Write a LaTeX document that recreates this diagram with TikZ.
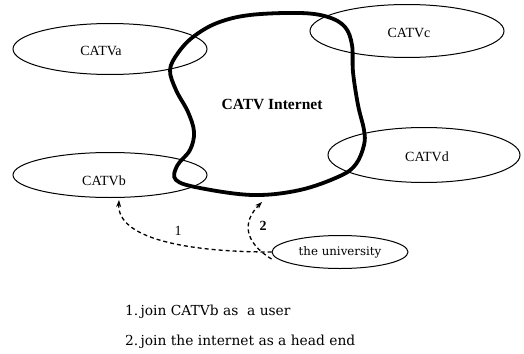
\documentclass[tikz,border=0pt]{standalone}
\usepackage{fontspec}
\setmainfont{Liberation Serif}
\newfontfamily\bodyserif{DejaVu Serif}
\usetikzlibrary{shapes.geometric,arrows.meta}
\begin{document}
\begin{tikzpicture}[x=1pt,y=-1pt,
  catv/.style={ellipse,draw,line width=1pt,inner sep=0pt},
  catvlabel/.style={inner sep=0pt,font=\fontsize{14}{16}\selectfont},
  link/.style={dashed,dash pattern=on 4pt off 3pt,line width=1.3pt,
    -{Stealth[length=7pt,width=5pt]}},
  numlabel/.style={inner sep=0pt,font=\fontsize{14}{16}\selectfont},
  note/.style={anchor=west,inner sep=0pt,font=\bodyserif\fontsize{13.8}{16}\selectfont}]
\useasboundingbox (0,0) rectangle (524,353);

% the four CATV networks
\node[catv,minimum width=194pt,minimum height=51pt] (a) at (110,49) {};
\node[catv,minimum width=194pt,minimum height=53pt] (c) at (407,31) {};
\node[catv,minimum width=194pt,minimum height=45pt] (b) at (110,175) {};
\node[catv,minimum width=192pt,minimum height=55pt] (d) at (424,155) {};
\node[catvlabel] (la) at (101,51) {CATVa};
\node[catvlabel] (lc) at (409,33) {CATVc};
\node[catvlabel] (lb) at (104,181) {CATVb};
\node[catvlabel] (ld) at (427,157) {CATVd};

% the CATV Internet backbone
\draw[line width=3.8pt] plot[smooth cycle,tension=0.6] coordinates {
  (170,70) (176,90) (188,112) (194,132) (190,150) (177,166) (176,180)
  (200,188) (253,195) (300,190) (340,176) (356,164) (364,145) (364,130)
  (358,105) (353,72) (352,45) (345,27) (328,17) (300,13) (250,15)
  (217,23) (193,37) (178,53)};
\node[inner sep=0pt,font=\bfseries\fontsize{15.5}{18}\selectfont] (net) at (272,104) {CATV Internet};
\coordinate (netin) at (262,202);

% the university and its two ways of joining
\node[catv,minimum width=136pt,minimum height=33pt,
  font=\bodyserif\fontsize{11.8}{14}\selectfont] (uni) at (340,252) {the university};
\coordinate (bin) at (119,200);

\draw[link] (uni.west) .. controls (185,252) and (117,238) .. (bin);
\draw[link] ([yshift=-7pt]uni.west) .. controls (244,242) and (242,222) .. (netin);
\node[numlabel] (n1) at (178,231) {1};
\node[numlabel,font=\bfseries\fontsize{14}{16}\selectfont] (n2) at (263,226) {2};

% legend
\node[note] (t1) at (125,312) {1.\,join CATVb as~~a user};
\node[note] (t2) at (125,342) {2.\,join the internet as a head end};
\end{tikzpicture}
\end{document}
